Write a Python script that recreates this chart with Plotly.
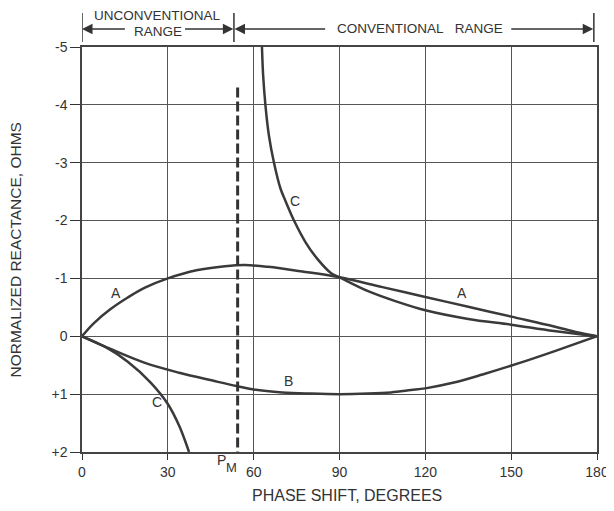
import plotly.graph_objects as go

# ---- data ----
x_ticks = [0, 30, 60, 90, 120, 150, 180]
y_ticks = [-5, -4, -3, -2, -1, 0, 1, 2]
y_ticktext = ["-5", "-4", "-3", "-2", "-1", "0", "+1", "+2"]

a_phase = [0, 4, 10, 16, 22, 30, 40, 50, 57, 65, 77, 90, 105, 120, 135, 150, 165, 173, 180]
a_react = [0, -0.22, -0.47, -0.67, -0.84, -1.0, -1.14, -1.21, -1.23, -1.2, -1.12, -1.02,
           -0.85, -0.68, -0.51, -0.34, -0.17, -0.07, 0]

b_phase = [0, 10, 22, 34, 46, 54, 60, 70, 80, 90, 100, 108, 115, 120, 130, 140, 153, 165, 180]
b_react = [0, 0.22, 0.46, 0.63, 0.77, 0.86, 0.92, 0.97, 0.99, 1.0, 0.99, 0.97, 0.93, 0.9,
           0.8, 0.66, 0.46, 0.26, 0]

c_upper_phase = [62.9, 63.3, 64.1, 65.3, 67.1, 69.4, 71.2, 74.1, 78.2, 82.4, 87.1, 90,
                 100, 110, 120, 135, 150, 165, 180]
c_upper_react = [-5.0, -4.52, -4.0, -3.48, -3.0, -2.55, -2.33, -2.0, -1.62, -1.33, -1.09,
                 -1.02, -0.78, -0.6, -0.45, -0.3, -0.2, -0.09, 0]

c_lower_phase = [0, 8, 16, 24, 30, 34, 36.5, 37.4]
c_lower_react = [0, 0.18, 0.44, 0.8, 1.17, 1.55, 1.87, 2.0]

pm_phase = 54.4
pm_top = -4.3

curve_labels = [("A", 11.9, -0.74), ("A", 132.9, -0.75), ("C", 74.6, -2.34),
                ("C", 26.2, 1.135), ("B", 72.2, 0.78)]

# ---- figure ----
FONT = "Liberation Sans, Arial, sans-serif"
INK = "#333333"
LINE = dict(color="#3a3a3a", width=2.5, shape="spline", smoothing=1.0)

fig = go.Figure()
for xs, ys in [(a_phase, a_react), (b_phase, b_react),
               (c_upper_phase, c_upper_react), (c_lower_phase, c_lower_react)]:
    fig.add_trace(go.Scatter(x=xs, y=ys, mode="lines", line=LINE,
                             hoverinfo="skip", showlegend=False, cliponaxis=True))

# dashed P_M line
fig.add_shape(type="line", x0=pm_phase, x1=pm_phase, y0=pm_top, y1=2,
              xref="x", yref="y", line=dict(color=INK, width=3, dash="10px,4px"))

annotations = []
for t, x, y in curve_labels:
    annotations.append(dict(text=t, x=x, y=y, xref="x", yref="y", showarrow=False,
                            xanchor="center", yanchor="middle",
                            font=dict(size=14, color=INK, family=FONT)))


# window pixel (plot area spans 47..452 vertically) -> paper y
def py(p):
    return (452 - p) / 405.0


def label(text, x, y, size, xref="x", angle=0):
    annotations.append(dict(text=text, x=x, y=y, xref=xref, yref="paper",
                            xanchor="center", yanchor="middle", textangle=angle,
                            showarrow=False, font=dict(size=size, color=INK, family=FONT)))


# P_M label
label("P", 48.9, py(460), 14)
label("M", 52.1, py(468), 13)

# axis titles
label("PHASE SHIFT, DEGREES", 92.5, py(495), 16)
label("NORMALIZED REACTANCE, OHMS", -0.13, 0.5, 15.5, xref="paper", angle=-90)

# range headers
label("UNCONVENTIONAL", 26.5, py(16), 13.5)
label("RANGE", 26.5, py(31), 13.5)
label("CONVENTIONAL&nbsp;&nbsp;&nbsp;RANGE", 118, py(29), 13.5)

bar_x = [0, 53.1, 178.9]
for bx in bar_x:
    fig.add_shape(type="line", x0=bx, x1=bx, y0=py(13), y1=py(42), xref="x", yref="paper",
                  line=dict(color=INK, width=1.5))

arrows = [(0, 15.5), (52.9, 35.5), (53.3, 85.5), (178.7, 149.5)]
for head, tail in arrows:
    annotations.append(dict(text="", x=head, y=py(29), xref="x", yref="paper",
                            ax=tail, ay=0, axref="x", ayref="pixel",
                            showarrow=True, arrowhead=2, arrowsize=1.5, arrowwidth=1.4,
                            arrowcolor=INK))

# page body has an 8px margin: figure is 606x503 so the plot lands where the reference's does
fig.update_layout(
    width=606, height=503,
    margin=dict(l=74, r=17, t=39, b=59, autoexpand=False),
    paper_bgcolor="white", plot_bgcolor="white",
    font=dict(family=FONT, color=INK, size=14),
    annotations=annotations,
    xaxis=dict(range=[0, 180], tickvals=x_ticks, ticks="outside", ticklen=6,
               tickcolor=INK, showgrid=True, gridcolor="#555555", gridwidth=1,
               showline=True, mirror=True, linecolor="#444444", linewidth=1.5,
               zeroline=False, automargin=False,
               tickfont=dict(size=14, color=INK, family=FONT)),
    yaxis=dict(range=[2, -5], tickvals=y_ticks, ticktext=y_ticktext, ticks="outside",
               ticklen=10, tickcolor=INK, showgrid=True, gridcolor="#555555", gridwidth=1,
               showline=True, mirror=True, linecolor="#444444", linewidth=1.5,
               zeroline=False, automargin=False,
               tickfont=dict(size=14, color=INK, family=FONT)),
)

fig.write_html("out.html")
